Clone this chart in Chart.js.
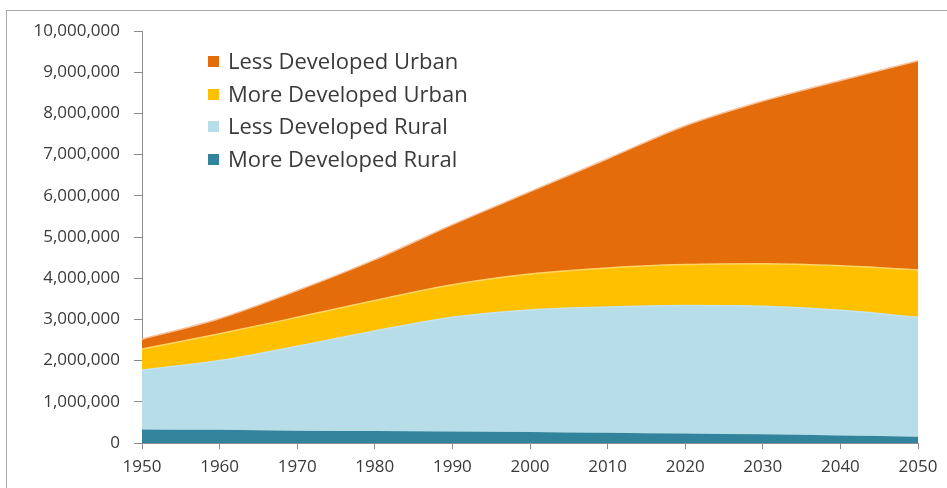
<!DOCTYPE html>
<html>
<head>
<meta charset="utf-8">
<script src="https://cdn.jsdelivr.net/npm/chart.js@4"></script>
<style>
  html, body { margin: 0; padding: 0; background: #fff; overflow: hidden; }
  #wrap { position: relative; width: 947px; height: 488px; }
  #marco { position: absolute; left: 6px; top: 10px; width: 1100px; height: 1000px; border: 1px solid #a9a9a9; }
  #grafica { position: absolute; left: 0; top: 0; }
  #leyenda { position: absolute; left: 208px; top: 44px; font-family: "Open Sans", sans-serif; font-size: 22px; color: #3a3a3a; }
  #leyenda div { height: 32.5px; line-height: 32px; white-space: nowrap; }
  #leyenda span { display: inline-block; width: 11px; height: 11px; margin-right: 9px; vertical-align: 2px; }
</style>
</head>
<body>
<div id="wrap">
  <div id="marco"></div>
  <canvas id="grafica" width="947" height="488"></canvas>
  <div id="leyenda"></div>
</div>
<script>
// años
const anios = [1950, 1960, 1970, 1980, 1990, 2000, 2010, 2020, 2030, 2040, 2050];

// poblacion (miles), de abajo hacia arriba en la pila
const masDesRural   = [330000, 320000, 300000, 290000, 280000, 270000, 250000, 230000, 210000, 180000, 150000];
const menosDesRural = [1440000, 1680000, 2050000, 2430000, 2770000, 2960000, 3050000, 3110000, 3110000, 3040000, 2900000];
const masDesUrbano  = [510000, 650000, 700000, 740000, 790000, 870000, 950000, 990000, 1030000, 1080000, 1150000];
const menosDesUrbano = [240000, 370000, 650000, 990000, 1460000, 2000000, 2650000, 3370000, 3950000, 4500000, 5080000];

const nombres = ["More Developed Rural", "Less Developed Rural", "More Developed Urban", "Less Developed Urban"];
const colores = ["#31849b", "#b7dde8", "#ffc000", "#e46c0a"];
const bordes  = ["#31849b", "#c4e3ee", "#ffd566", "#f7c29c"];

const series = [masDesRural, menosDesRural, masDesUrbano, menosDesUrbano];

const datasets = series.map((s, i) => ({
  label: nombres[i],
  data: s,
  backgroundColor: colores[i],
  borderColor: bordes[i],
  borderWidth: i === 0 ? 0 : 1.5,
  fill: i === 0 ? "origin" : "-1",
  pointRadius: 0,
  tension: 0.4,
  cubicInterpolationMode: "monotone"
}));

const fuente = { family: "'Open Sans', sans-serif", size: 17 };

new Chart(document.getElementById("grafica"), {
  type: "line",
  data: { labels: anios, datasets: datasets },
  options: {
    responsive: false,
    animation: false,
    layout: { padding: { left: 0, top: 31, right: 29, bottom: 0 } },
    plugins: { legend: { display: false }, tooltip: { enabled: false } },
    scales: {
      x: {
        offset: false,
        grid: { display: true, drawOnChartArea: false, tickLength: 6, color: "#8c8c8c" },
        border: { color: "#8c8c8c" },
        ticks: { color: "#3a3a3a", font: fuente, maxRotation: 0, padding: 8 },
        afterFit: s => { s.height = 45; }
      },
      y: {
        stacked: true,
        min: 0,
        max: 10000000,
        grid: { display: true, drawOnChartArea: false, tickLength: 8, color: "#8c8c8c" },
        border: { color: "#8c8c8c" },
        ticks: {
          stepSize: 1000000,
          color: "#3a3a3a",
          font: fuente,
          padding: 14,
          callback: v => v.toLocaleString("en-US")
        },
        afterFit: s => { s.width = 142; }
      }
    }
  }
});

// leyenda en orden inverso, como en la original
const ley = document.getElementById("leyenda");
for (let i = nombres.length - 1; i >= 0; i--) {
  const d = document.createElement("div");
  d.innerHTML = `<span style="background:${colores[i]}"></span>${nombres[i]}`;
  ley.appendChild(d);
}
</script>
</body>
</html>
